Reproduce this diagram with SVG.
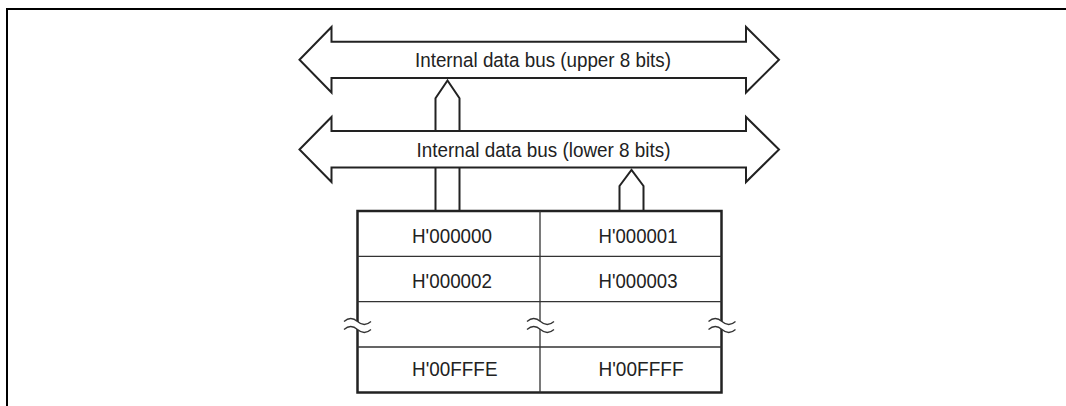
<svg xmlns="http://www.w3.org/2000/svg" width="1066" height="406" viewBox="0 0 1066 406">
  <style>
    .frame { fill: none; stroke: #000; stroke-width: 2; }
    .bus { fill: #fff; stroke: #222; stroke-width: 2; stroke-linejoin: miter; }
    .conn { fill: #fff; stroke: #222; stroke-width: 2; stroke-linejoin: miter; }
    .vline { fill: none; stroke: #222; stroke-width: 2; }
    .outer { fill: #fff; stroke: #222; stroke-width: 2.5; }
    .inner { fill: none; stroke: #333; stroke-width: 1.3; }
    .txt { font-family: "Liberation Sans", Arial, Helvetica, sans-serif; font-size: 20.5px; fill: #222; }
    .cell { font-size: 21px; }
    .brk { fill: #fff; stroke: none; }
    .wave { fill: none; stroke: #333; stroke-width: 1.3; }
  </style>
  <defs>
    <g id="break">
      <path class="brk" d="M-13.5,-4 C-9,-8 -4.5,-8 0,-4 C4.5,0 9,0 13.5,-4 L13.5,4 C9,8 4.5,8 0,4 C-4.5,0 -9,0 -13.5,4 Z"/>
      <path class="wave" d="M-13.5,-4 C-9,-8 -4.5,-8 0,-4 C4.5,0 9,0 13.5,-4"/>
      <path class="wave" d="M-13.5,4 C-9,0 -4.5,0 0,4 C4.5,8 9,8 13.5,4"/>
    </g>
  </defs>

  <path class="frame" d="M7,406 V9 H1066"/>

  <g id="connectors">
    <path class="conn" d="M435.5,131 V98.3 L447.5,80.5 L459.5,98.3 V131"/>
    <path class="vline" d="M435.5,167.5 V211 M459.5,167.5 V211"/>
    <path class="conn" d="M619.5,211 V186 L631.5,170 L643.5,186 V211"/>
  </g>

  <g id="bus-upper">
    <polygon class="bus" points="299.5,59.8 331.5,27 331.5,41.8 746,41.8 746,27 779,59.8 746,92.5 746,78 331.5,78 331.5,92.5"/>
    <text class="txt" x="415" y="66.7" textLength="256" lengthAdjust="spacingAndGlyphs">Internal data bus (upper 8 bits)</text>
  </g>

  <g id="bus-lower">
    <polygon class="bus" points="299.5,149.5 331.5,117 331.5,131 746,131 746,117 779,149.5 746,182 746,167.5 331.5,167.5 331.5,182"/>
    <text class="txt" x="416.5" y="157" textLength="254" lengthAdjust="spacingAndGlyphs">Internal data bus (lower 8 bits)</text>
  </g>

  <g id="memory">
    <rect class="outer" x="357.5" y="211" width="364" height="181.5"/>
    <path class="inner" d="M540,211 V392.5 M357.5,256.3 H721.5 M357.5,301.7 H721.5 M357.5,347 H721.5"/>
    <use href="#break" x="357.5" y="325.5"/>
    <use href="#break" x="540.5" y="325.5"/>
    <use href="#break" x="722" y="325.5"/>
    <g id="cell-000000"><text class="txt cell" x="412" y="242.7" textLength="80" lengthAdjust="spacingAndGlyphs">H'000000</text></g>
    <g id="cell-000001"><text class="txt cell" x="598.5" y="242.7" textLength="79" lengthAdjust="spacingAndGlyphs">H'000001</text></g>
    <g id="cell-000002"><text class="txt cell" x="412" y="287.5" textLength="80" lengthAdjust="spacingAndGlyphs">H'000002</text></g>
    <g id="cell-000003"><text class="txt cell" x="598.5" y="287.5" textLength="79" lengthAdjust="spacingAndGlyphs">H'000003</text></g>
    <g id="cell-00FFFE"><text class="txt cell" x="412" y="375.7" textLength="85.5" lengthAdjust="spacingAndGlyphs">H'00FFFE</text></g>
    <g id="cell-00FFFF"><text class="txt cell" x="598.5" y="375.7" textLength="85" lengthAdjust="spacingAndGlyphs">H'00FFFF</text></g>
  </g>
</svg>
